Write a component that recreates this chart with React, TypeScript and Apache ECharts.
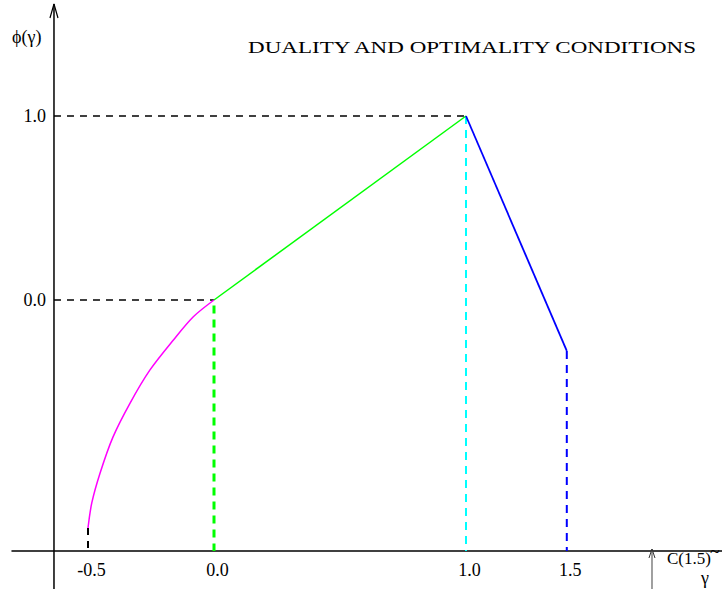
import React, { useEffect, useRef } from "react";
import * as echarts from "echarts";

// Schematic ticks (positions on the drawn axis, and their printed labels)
const xTickPositions = [-0.5, 0.0, 1.0, 1.4];
const xTickLabels = ["-0.5", "0.0", "1.0", "1.5"];
const yTickPositions = [0.0, 1.0];
const yTickLabels = ["0.0", "1.0"];

// Magenta concave branch phi(gamma) for gamma in [-0.5, 0]
const curveX = [-0.5, -0.485, -0.452, -0.401, -0.333, -0.254, -0.161, -0.082, 0.0];
const curveY = [-1.239, -1.103, -0.94, -0.745, -0.56, -0.38, -0.217, -0.091, 0.0];

// Green linear branch
const greenX = [0.0, 1.0];
const greenY = [0.0, 1.0];

// Blue linear branch
const blueX = [1.0, 1.4];
const blueY = [1.0, -0.277];

// Axis frame (data units)
const X_MIN = -0.8016;
const X_MAX = 2.0159;
const Y_MIN = -1.3641;
const Y_MAX = 1.6304;
const Y_AXIS_X = -0.635;
const Y_AXIS_TOP = 1.6087;
const Y_AXIS_BOTTOM = -1.5707;
const ARROW_X = 1.7381;

const FONT = "'Liberation Serif', 'Times New Roman', serif";

function zip(xs: number[], ys: number[]) {
  return xs.map((x, i) => [x, ys[i]]);
}

export default function App() {
  const ref = useRef<HTMLDivElement>(null);
  useEffect(() => {
    document.body.style.margin = "0";
    if (!ref.current) return;
    const chart = echarts.init(ref.current, null, { renderer: "svg" });

    const seg = (data: number[][], color: string, width: number, type: any = "solid", z = 2) => ({
      type: "line",
      data,
      symbol: "none",
      clip: false,
      silent: true,
      z,
      lineStyle: { color, width, type },
    });

    const greenEnd = [greenX[1], greenY[1]];
    const blueEnd = [blueX[1], blueY[1]];

    chart.setOption({
      animation: false,
      backgroundColor: "#ffffff",
      grid: { left: 12, right: 0, top: 0, bottom: 38, containLabel: false },
      xAxis: {
        type: "value",
        min: X_MIN,
        max: X_MAX,
        axisLine: { show: true, onZero: false, lineStyle: { color: "#000", width: 1.5 } },
        axisTick: { show: false },
        splitLine: { show: false },
        axisLabel: {
          show: true,
          customValues: xTickPositions,
          formatter: (v: number) => {
            const i = xTickPositions.findIndex((p) => Math.abs(p - v) < 1e-6);
            return i >= 0 ? xTickLabels[i] : "";
          },
          margin: 10,
          color: "#000",
          fontFamily: FONT,
          fontSize: 18,
          padding: [0, 0, 0, 7],
        },
      },
      yAxis: {
        type: "value",
        min: Y_MIN,
        max: Y_MAX,
        offset: -42,
        axisLine: { show: false, onZero: false },
        axisTick: { show: false },
        splitLine: { show: false },
        axisLabel: {
          show: true,
          customValues: yTickPositions,
          formatter: (v: number) => {
            const i = yTickPositions.findIndex((p) => Math.abs(p - v) < 1e-6);
            return i >= 0 ? yTickLabels[i] : "";
          },
          margin: 8,
          color: "#000",
          fontFamily: FONT,
          fontSize: 18,
        },
      },
      graphic: [
        {
          type: "text",
          x: 248,
          y: 47,
          scaleX: 1.44,
          z: 10,
          style: {
            text: "DUALITY AND OPTIMALITY CONDITIONS",
            font: `16px ${FONT}`,
            fill: "#000",
            textAlign: "left",
            textVerticalAlign: "middle",
          },
        },
        {
          type: "text",
          x: 12,
          y: 37,
          z: 10,
          style: {
            text: "ϕ(γ)",
            font: `18px ${FONT}`,
            fill: "#000",
            textAlign: "left",
            textVerticalAlign: "middle",
          },
        },
        {
          type: "text",
          x: 667,
          y: 558,
          z: 10,
          style: {
            text: "C(1.5)",
            font: `17px ${FONT}`,
            fill: "#000",
            textAlign: "left",
            textVerticalAlign: "middle",
          },
        },
        {
          type: "text",
          x: 701,
          y: 578,
          z: 10,
          style: {
            text: "γ",
            font: `18px ${FONT}`,
            fill: "#000",
            textAlign: "left",
            textVerticalAlign: "middle",
          },
        },
        {
          type: "text",
          x: 710,
          y: 552,
          z: 10,
          style: {
            text: "~",
            font: `18px ${FONT}`,
            fill: "#000",
            textAlign: "left",
            textVerticalAlign: "middle",
          },
        },
      ],
      series: [
        // y axis line and open arrowhead
        seg([[Y_AXIS_X, Y_AXIS_BOTTOM], [Y_AXIS_X, Y_AXIS_TOP]], "#000", 1.5),
        seg(
          [
            [Y_AXIS_X - 0.0159, 1.5326],
            [Y_AXIS_X, Y_AXIS_TOP],
            [Y_AXIS_X + 0.0159, 1.5326],
          ],
          "#000",
          1.2
        ),
        // bottom-right gray arrow
        seg([[ARROW_X, Y_AXIS_BOTTOM], [ARROW_X, -1.3533]], "#808080", 1.5),
        seg(
          [
            [ARROW_X - 0.0119, -1.4022],
            [ARROW_X, -1.3533],
            [ARROW_X + 0.0119, -1.4022],
          ],
          "#333",
          1
        ),
        // dashed guides
        seg([[Y_AXIS_X, 0], [0, 0]], "#000", 1.5, [7, 6]),
        seg([[Y_AXIS_X, greenEnd[1]], greenEnd], "#000", 1.5, [7, 6]),
        seg([[0, -0.03], [0, Y_MIN]], "#00ff00", 3, [8, 6]),
        seg([greenEnd, [greenEnd[0], Y_MIN]], "#00ffff", 2, [8, 6]),
        seg([blueEnd, [blueEnd[0], Y_MIN]], "#0000ff", 2, [8, 6]),
        seg([[curveX[0], curveY[0]], [curveX[0], Y_MIN]], "#000", 2, [7, 6]),
        // curves
        {
          type: "line",
          data: zip(curveX, curveY),
          symbol: "none",
          smooth: 0.3,
          silent: true,
          z: 3,
          lineStyle: { color: "#ff00ff", width: 1.5 },
        },
        { ...seg(zip(greenX, greenY), "#00ff00", 1.5), z: 3 },
        { ...seg(zip(blueX, blueY), "#0000ff", 1.8), z: 3 },
      ],
    });
    return () => chart.dispose();
  }, []);
  return <div ref={ref} style={{ width: 722, height: 589 }} />;
}
